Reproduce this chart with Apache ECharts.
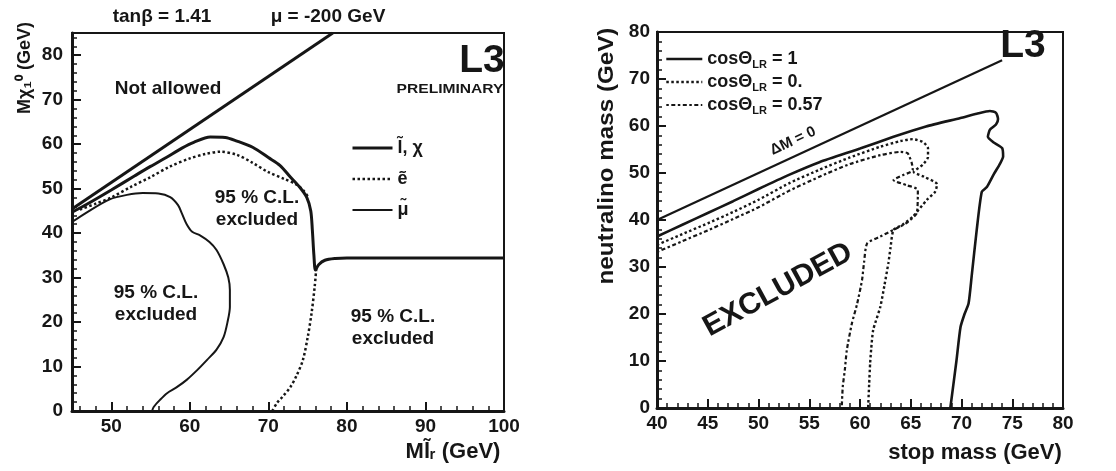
<!DOCTYPE html>
<html>
<head>
<meta charset="utf-8">
<script src="https://cdn.jsdelivr.net/npm/echarts@6/dist/echarts.min.js"></script>
<style>
html,body{margin:0;padding:0;background:#fff;}
#chart{width:1116px;height:471px;}
</style>
</head>
<body>
<div id="chart"></div>
<script>
// ---------- tick values ----------
const leftXTicks = [50, 60, 70, 80, 90, 100];
const leftXMinor = [46, 48, 52, 54, 56, 58, 62, 64, 66, 68, 72, 74, 76, 78, 82, 84, 86, 88, 92, 94, 96, 98];
const leftYTicks = [0, 10, 20, 30, 40, 50, 60, 70, 80];
const leftYMinor = [2, 4, 6, 8, 12, 14, 16, 18, 22, 24, 26, 28, 32, 34, 36, 38, 42, 44, 46, 48, 52, 54, 56, 58, 62, 64, 66, 68, 72, 74, 76, 78, 82, 84];

// ---------- left panel data (slepton mass vs neutralino mass) ----------
const leftKinematic = [[45, 45.4], [78.2, 85]];
const leftLChi = [[45, 44.7], [47, 46.6], [50, 49.7], [53, 52.9], [55, 55], [57, 57], [59, 59.1], [60.5, 60.4], [62.6, 61.6],
  [64.5, 61.5], [66, 60.7], [68, 59.3], [70, 57], [71.5, 55.2], [72.8, 52.6], [74, 50.3], [74.9, 48], [75.4, 45],
  [75.6, 40.7], [75.8, 35], [76, 31.7], [76.4, 32.9], [77.2, 33.9], [78.5, 34.3], [80, 34.4], [100, 34.4]];
const leftEUpper = [[46, 45.3], [48, 46.6], [50, 48], [52.5, 50.4], [55, 52.6], [57.5, 55], [60, 56.8], [62, 57.8], [63.9, 58.3],
  [66, 57.6], [68, 55.8], [70, 53.7], [72, 52.2], [73.5, 51], [74.5, 49.5], [75.2, 47.8]];
const leftELower = [[76.1, 32], [75.9, 28], [75.5, 22], [75, 16.5], [74.4, 11.5], [73.6, 8], [72.8, 5.4], [71.8, 3.2], [71.1, 1.8], [70.5, 0]];
const leftMu = [[45, 42.5], [47, 44.8], [49.8, 47.6], [52, 48.6], [54, 49], [56, 48.9], [57.5, 48.1], [58.5, 46.3], [59, 44.4],
  [59.6, 42], [60.3, 40.3], [61.3, 39.5], [62.5, 38], [63.4, 36.2], [64.3, 33], [64.9, 30], [65.1, 27.2], [65.1, 23.4],
  [64.8, 20], [64.3, 16.6], [63.4, 13.8], [62.2, 11.5], [61, 9.3], [59.6, 7], [58.3, 5.3], [57.1, 4], [56.2, 2.5], [55.4, 0.9], [55.2, 0]];

// ---------- right panel data (stop mass vs neutralino mass) ----------
const rightDM0 = [[40, 40], [74, 74]];
const rightCos1 = [[40, 36.5], [42.5, 39], [45, 41.5], [47.5, 44], [50, 46.6], [53, 49.6], [56, 52.3], [60, 55.2], [63.3, 57.7],
  [66.5, 59.9], [69.9, 61.7], [71.5, 62.6], [72.8, 63.2], [73.4, 62.8], [73.6, 61.5], [73.4, 60.3], [72.8, 59.2], [72.6, 57.7],
  [73.1, 56.6], [74, 55.3], [74.1, 53.5], [73.8, 52], [73.2, 49.8], [72.5, 47], [72, 46], [71.5, 37.9], [71, 28], [70.7, 22.3],
  [70.3, 20], [69.9, 17.2], [69.5, 10], [68.9, 0]];
const rightCos0 = [[40, 34.7], [42.5, 37], [45, 39.3], [47.5, 41.7], [50, 44.3], [53, 47.8], [56, 50.7], [59, 53.3], [62, 55.6],
  [64, 56.8], [65.2, 57.2], [66.2, 56.6], [66.7, 55.3], [66.7, 53.4], [66.2, 51.8], [65.3, 50.2], [66.3, 49.2], [67.6, 47.6],
  [67.4, 46], [66.6, 44.3], [65.2, 40.7], [64.2, 39], [63.3, 37.9], [63, 34], [62.8, 30.9], [62.4, 26], [62, 21.5], [61.3, 16.6],
  [61.1, 12.5], [61, 9.6], [60.9, 5], [60.8, 0]];
const rightCos057 = [[40, 33.2], [42.5, 35.5], [45, 37.8], [47.5, 40.2], [50, 42.7], [53, 46.2], [56, 49.2], [59, 51.9], [62, 53.8],
  [64, 54.5], [64.7, 54.2], [65.1, 52.1], [65.2, 50.6], [64.2, 49.5], [63.3, 48.5], [64.6, 47.4], [65.7, 46.4], [65.6, 41.5],
  [64.6, 39.4], [63.3, 37.9], [62, 36.5], [60.7, 35], [60.4, 31], [60.2, 27.2], [59.7, 22], [59.2, 18], [58.7, 12.3], [58.5, 8],
  [58.3, 4.5], [58.2, 0]];

const leftNames = ['l̃, χ', 'ẽ', 'μ̃'];
const rightNames = ['cosΘLR = 1', 'cosΘLR = 0.', 'cosΘLR = 0.57'];

const INK = '#161616';
const FONT = '"Liberation Sans", Arial, Helvetica, sans-serif';
const NARROW = '"Liberation Sans Narrow", "Liberation Sans", Arial, sans-serif';

const tickLabel = {fontSize: 19, fontWeight: 'bold', color: INK, fontFamily: FONT};

function lineSeries(name, data, xi, yi, width, type, smooth) {
  return {
    name: name, type: 'line', xAxisIndex: xi, yAxisIndex: yi, data: data,
    symbol: 'none', smooth: smooth, silent: true,
    lineStyle: {color: INK, width: width, type: type, cap: 'butt'},
    itemStyle: {color: INK}
  };
}

function txt(x, y, text, size, opts) {
  opts = opts || {};
  return Object.assign({
    type: 'text', x: x, y: y,
    style: {text: text, font: 'bold ' + size + 'px ' + (opts.family || FONT), fill: INK, align: 'center', verticalAlign: 'middle'}
  }, opts.extra || {});
}

const chart = echarts.init(document.getElementById('chart'), null, {renderer: 'canvas'});

const option = {
  animation: false,
  backgroundColor: '#ffffff',
  grid: [
    {left: 72, top: 33, width: 432, height: 378, show: true, borderColor: INK, borderWidth: 2, backgroundColor: 'transparent'},
    {left: 657, top: 32, width: 406, height: 376, show: true, borderColor: INK, borderWidth: 2, backgroundColor: 'transparent'}
  ],
  xAxis: [
    {gridIndex: 0, type: 'value', min: 45, max: 100, position: 'bottom',
     axisLine: {show: true, lineStyle: {color: INK, width: 3}},
     axisTick: {show: true, inside: true, length: 9, customValues: leftXTicks, lineStyle: {color: INK, width: 2}},
     axisLabel: Object.assign({customValues: leftXTicks, margin: 6}, tickLabel),
     splitLine: {show: false}},
    {gridIndex: 0, type: 'value', min: 45, max: 100, position: 'bottom',
     axisLine: {show: false},
     axisTick: {show: true, inside: true, length: 5, customValues: leftXMinor, lineStyle: {color: INK, width: 1.5}},
     axisLabel: {show: false}, splitLine: {show: false}},
    {gridIndex: 1, type: 'value', min: 40, max: 80, interval: 5, position: 'bottom',
     axisLine: {show: true, lineStyle: {color: INK, width: 3}},
     axisTick: {show: true, inside: true, length: 9, lineStyle: {color: INK, width: 2}},
     minorTick: {show: true, splitNumber: 5, length: 5, lineStyle: {color: INK, width: 1.5}},
     axisLabel: Object.assign({margin: 6}, tickLabel),
     splitLine: {show: false}, minorSplitLine: {show: false}}
  ],
  yAxis: [
    {gridIndex: 0, type: 'value', min: 0, max: 85, position: 'left',
     axisLine: {show: true, lineStyle: {color: INK, width: 3}},
     axisTick: {show: true, inside: true, length: 9, customValues: leftYTicks, lineStyle: {color: INK, width: 2}},
     axisLabel: Object.assign({customValues: leftYTicks, margin: 9}, tickLabel),
     splitLine: {show: false}},
    {gridIndex: 0, type: 'value', min: 0, max: 85, position: 'left',
     axisLine: {show: false},
     axisTick: {show: true, inside: true, length: 5, customValues: leftYMinor, lineStyle: {color: INK, width: 1.5}},
     axisLabel: {show: false}, splitLine: {show: false}},
    {gridIndex: 1, type: 'value', min: 0, max: 80, interval: 10, position: 'left',
     axisLine: {show: true, lineStyle: {color: INK, width: 3}},
     axisTick: {show: true, inside: true, length: 9, lineStyle: {color: INK, width: 2}},
     minorTick: {show: true, splitNumber: 5, length: 5, lineStyle: {color: INK, width: 1.5}},
     axisLabel: Object.assign({margin: 7}, tickLabel),
     splitLine: {show: false}, minorSplitLine: {show: false}}
  ],
  legend: [
    {data: leftNames, orient: 'vertical', left: 346, top: 134, itemWidth: 40, itemHeight: 14, itemGap: 13,
     selectedMode: false,
     itemStyle: {opacity: 0, color: 'transparent', borderWidth: 0},
     lineStyle: {width: 'inherit'},
     textStyle: {fontSize: 18, fontWeight: 'bold', color: INK, fontFamily: FONT}},
    {data: rightNames, orient: 'vertical', left: 660, top: 45, itemWidth: 36, itemHeight: 14, itemGap: 3,
     selectedMode: false,
     itemStyle: {opacity: 0, color: 'transparent', borderWidth: 0},
     lineStyle: {width: 'inherit'},
     formatter: function (name) { return '{a|cosΘ}{s|LR}{a|' + name.replace('cosΘLR', '') + '}'; },
     textStyle: {color: INK, fontFamily: FONT,
       rich: {
         a: {fontSize: 18, fontWeight: 'bold', color: INK, fontFamily: FONT, lineHeight: 22, verticalAlign: 'middle'},
         s: {fontSize: 11, fontWeight: 'bold', color: INK, fontFamily: FONT, lineHeight: 10, verticalAlign: 'bottom'}
       }}}
  ],
  series: [
    lineSeries('kin', leftKinematic, 0, 0, 3, 'solid', false),
    lineSeries(leftNames[0], leftLChi, 0, 0, 3, 'solid', 0.3),
    lineSeries(leftNames[1], leftEUpper, 0, 0, 2.5, [2.5, 2.5], 0.3),
    lineSeries(leftNames[1], leftELower, 0, 0, 2.5, [2.5, 2.5], 0.3),
    lineSeries(leftNames[2], leftMu, 0, 0, 2, 'solid', 0.3),
    lineSeries('dm0', rightDM0, 2, 2, 2.2, 'solid', false),
    lineSeries(rightNames[0], rightCos1, 2, 2, 2.6, 'solid', 0.2),
    lineSeries(rightNames[1], rightCos0, 2, 2, 2.4, [2.5, 2.5], 0.2),
    lineSeries(rightNames[2], rightCos057, 2, 2, 2.2, [2.5, 2.5, 4, 2.5], 0.2)
  ],
  graphic: [
    txt(162, 17, 'tanβ = 1.41', 19),
    txt(328, 17, 'μ = -200 GeV', 19),
    txt(482, 61, 'L3', 39, {family: NARROW}),
    txt(450, 89, 'PRELIMINARY', 13, {extra: {scaleX: 1.2}}),
    txt(168, 89, 'Not allowed', 19),
    txt(257, 198, '95 % C.L.', 19),
    txt(257, 220, 'excluded', 19),
    txt(156, 293, '95 % C.L.', 19),
    txt(156, 315, 'excluded', 19),
    txt(393, 317, '95 % C.L.', 19),
    txt(393, 339, 'excluded', 19),
    txt(25, 68, 'Mχ₁⁰ (GeV)', 18, {extra: {rotation: Math.PI / 2}}),
    txt(453, 452, 'Ml̃ᵣ (GeV)', 22),
    txt(1023, 46, 'L3', 39, {family: NARROW}),
    txt(793, 141, 'ΔM = 0', 15, {extra: {rotation: 0.44}}),
    txt(778, 290, 'EXCLUDED', 30, {extra: {rotation: 0.5}}),
    txt(975, 453, 'stop mass (GeV)', 22),
    txt(607, 156, 'neutralino mass (GeV)', 22, {extra: {rotation: Math.PI / 2, scaleX: 1.1}})
  ]
};
chart.setOption(option);
</script>
</body>
</html>
